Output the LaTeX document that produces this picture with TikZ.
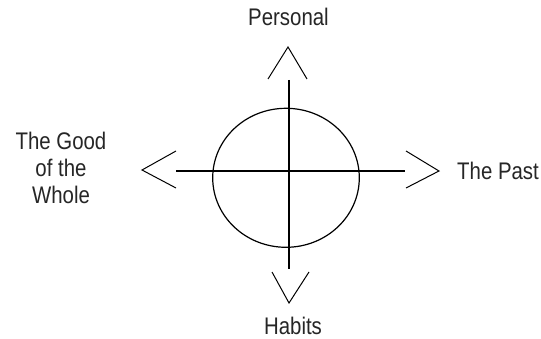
\documentclass[tikz,border=0pt]{standalone}
\usepackage{fontspec}
\setmainfont{Liberation Sans}[FakeStretch=0.85]
\usetikzlibrary{shapes.geometric}
\begin{document}
\begin{tikzpicture}[x=1pt,y=-1pt,
  axis/.style={line width=1.3pt, black},
  vee/.style={line width=1pt, black, line join=miter},
  ring/.style={draw=black, line width=1.2pt, ellipse, inner sep=0pt,
               minimum width=146.6pt, minimum height=139pt},
  lbl/.style={inner sep=0pt, font=\fontsize{24}{27}\selectfont, text=black!85, align=center}]
\fill[white] (0,0) rectangle (541,339);
\useasboundingbox (0,0) rectangle (541,339);

% circle
\node[ring] (circ) at (286,177.8) {};

% axis ends
\coordinate (vtop) at (289,80);
\coordinate (vbot) at (289,269);
\coordinate (hl) at (176,171);
\coordinate (hr) at (405,171);
\draw[axis] (vtop) -- (vbot);
\draw[axis] (hl) -- (hr);

% arrow tips (open V)
\coordinate (ttip) at (288,47);
\coordinate (ta) at (268,79);
\coordinate (tb) at (307,79);
\draw[vee] (ta) -- (ttip) -- (tb);

\coordinate (btip) at (289,303);
\coordinate (ba) at (272,272);
\coordinate (bb) at (309,272);
\draw[vee] (ba) -- (btip) -- (bb);

\coordinate (ltip) at (142,170);
\coordinate (la) at (176,151);
\coordinate (lb) at (176,188);
\draw[vee] (la) -- (ltip) -- (lb);

\coordinate (rtip) at (439,171);
\coordinate (ra) at (406,151);
\coordinate (rb) at (406,188);
\draw[vee] (ra) -- (rtip) -- (rb);

% labels
\node[lbl, anchor=base] (personal) at (288.5,26) {Personal};
\node[lbl, anchor=base] (habits) at (293,334) {Habits};
\node[lbl, anchor=base west] (past) at (457,180) {The Past};
\node[lbl, anchor=north] (whole) at (61,132) {The Good\\of the\\Whole};
\end{tikzpicture}
\end{document}
